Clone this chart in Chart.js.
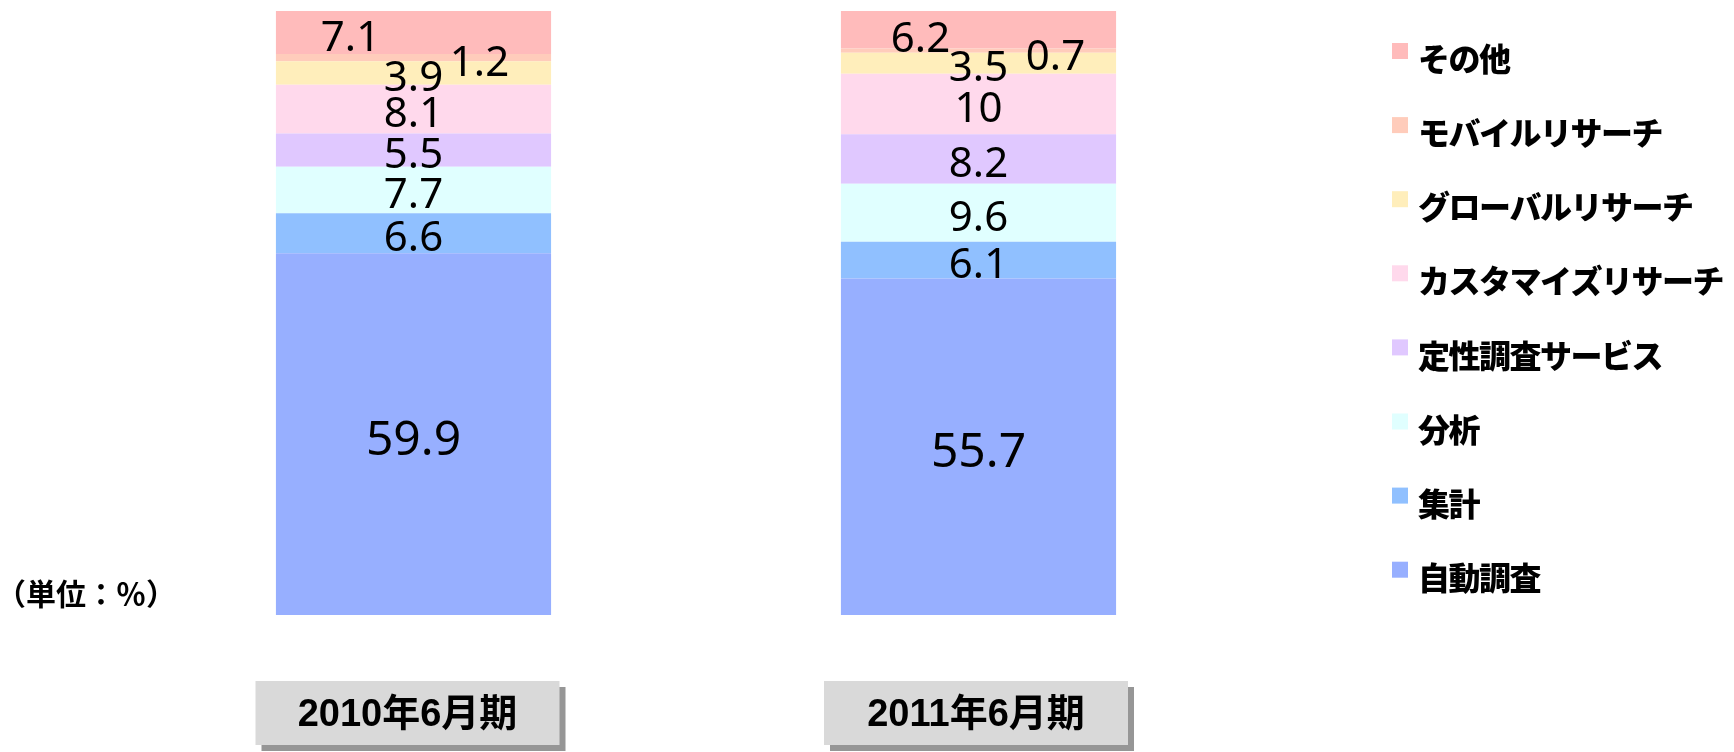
<!DOCTYPE html>
<html lang="ja">
<head>
<meta charset="utf-8">
<script src="https://cdn.jsdelivr.net/npm/chart.js@4.4.1/dist/chart.umd.min.js"></script>
<style>
    html, body { margin: 0; padding: 0; background: #fff; }
    #wrap { width: 1734px; height: 752px; }
</style>
</head>
<body>
<div id="wrap"><canvas id="share-chart" width="1734" height="752"></canvas></div>
<script>
// categories (x axis) and series, bottom of the stack first
const periods = ['2010年6月期', '2011年6月期'];
const seriesNames = ['自動調査', '集計', '分析', '定性調査サービス', 'カスタマイズリサーチ', 'グローバルリサーチ', 'モバイルリサーチ', 'その他'];

const autoSurvey     = [59.9, 55.7];
const tabulation     = [6.6, 6.1];
const analysis       = [7.7, 9.6];
const qualitative    = [5.5, 8.2];
const customized     = [8.1, 10];
const globalResearch = [3.9, 3.5];
const mobileResearch = [1.2, 0.7];
const others         = [7.1, 6.2];

const unitLabel = '（単位：％）';

const seriesColors = ['#97AFFF', '#90C0FF', '#E0FFFF', '#E0C8FF', '#FFD9EC', '#FFEEBB', '#FFCCBB', '#FFBBBB'];
const seriesValues = [autoSurvey, tabulation, analysis, qualitative, customized, globalResearch, mobileResearch, others];

const jpFont = '"Noto Sans CJK JP", "Noto Sans", sans-serif';

// value labels inside the segments
const segmentLabels = {
    id: 'segmentLabels',
    afterDatasetsDraw(chart, args, opts) {
        const ctx = chart.ctx;
        ctx.save();
        ctx.fillStyle = '#000';
        ctx.textAlign = 'center';
        ctx.textBaseline = 'alphabetic';
        chart.data.datasets.forEach((ds, di) => {
            const meta = chart.getDatasetMeta(di);
            const size = di === 0 ? opts.bigSize : opts.size;
            ctx.font = size + 'px ' + opts.family;
            meta.data.forEach((bar, i) => {
                const text = String(ds.data[i]);
                const shift = (opts.shifts[di] && opts.shifts[di][i]) || [0, 0];
                const m = ctx.measureText(text);
                const cy = (bar.y + bar.base) / 2 + opts.dy + shift[1];
                ctx.fillText(text, bar.x + shift[0], cy + m.actualBoundingBoxAscent / 2);
            });
        });
        ctx.restore();
    }
};

// grey period boxes under the bars, plus the unit note
const periodBoxes = {
    id: 'periodBoxes',
    afterDraw(chart, args, opts) {
        const ctx = chart.ctx;
        const xScale = chart.scales.x;
        ctx.save();
        chart.data.labels.forEach((label, i) => {
            const box = opts.boxes[i];
            const cx = xScale.getPixelForValue(i) + box.dx;
            const left = cx - box.w / 2;
            ctx.fillStyle = '#969696';
            ctx.fillRect(left + opts.shadow, opts.top + opts.shadow, box.w, opts.height);
            ctx.fillStyle = '#D9D9D9';
            ctx.fillRect(left, opts.top, box.w, opts.height);
            ctx.fillStyle = '#000';
            ctx.font = 'bold 38px "Liberation Sans", ' + jpFont;
            ctx.textAlign = 'center';
            ctx.textBaseline = 'middle';
            ctx.fillText(label, cx, opts.top + opts.height / 2 + 3);
        });

        ctx.font = 'bold 30px ' + jpFont;
        ctx.textAlign = 'center';
        ctx.textBaseline = 'middle';
        ctx.fillText(unitLabel, opts.unitX, opts.unitY);
        ctx.restore();
    }
};

// legend on the right, top item = last series
const sideLegend = {
    id: 'sideLegend',
    afterDraw(chart, args, opts) {
        const ctx = chart.ctx;
        const sets = chart.data.datasets;
        ctx.save();
        ctx.font = '900 32px ' + jpFont;
        if ('letterSpacing' in ctx) ctx.letterSpacing = '-1.5px';
        ctx.textAlign = 'left';
        ctx.textBaseline = 'middle';
        for (let k = 0; k < sets.length; k++) {
            const ds = sets[sets.length - 1 - k];
            const cy = opts.top + k * opts.step;
            ctx.fillStyle = ds.backgroundColor;
            ctx.fillRect(opts.x, cy - opts.box / 2, opts.box, opts.box);
            ctx.fillStyle = '#000';
            ctx.fillText(ds.label, opts.textX, cy + 8);
        }
        ctx.restore();
    }
};

const datasets = seriesNames.map((name, i) => ({
    label: name,
    data: seriesValues[i],
    backgroundColor: seriesColors[i],
    borderWidth: 0,
    categoryPercentage: 0.487,
    barPercentage: 1
}));

new Chart(document.getElementById('share-chart').getContext('2d'), {
    type: 'bar',
    data: { labels: periods, datasets: datasets },
    options: {
        responsive: false,
        animation: false,
        devicePixelRatio: 1,
        layout: { padding: { left: 131, right: 473, top: 11, bottom: 137 } },
        scales: {
            x: { stacked: true, display: false },
            y: { stacked: true, display: false, min: 0, max: 100 }
        },
        plugins: {
            legend: { display: false },
            tooltip: { enabled: false },
            segmentLabels: {
                family: '"Noto Sans", sans-serif',
                size: 42,
                bigSize: 48,
                dy: 3,
                shifts: {
                    6: [[66, 0], [77, 1]],
                    7: [[-63, 1], [-58, 4]]
                }
            },
            periodBoxes: {
                top: 681,
                height: 64,
                shadow: 6,
                boxes: [{ dx: -6, w: 304 }, { dx: -2.5, w: 304 }],
                unitX: 86,
                unitY: 594
            },
            sideLegend: { x: 1392, textX: 1418, top: 51, step: 74.1, box: 16 }
        }
    },
    plugins: [segmentLabels, periodBoxes, sideLegend]
});
</script>
</body>
</html>
